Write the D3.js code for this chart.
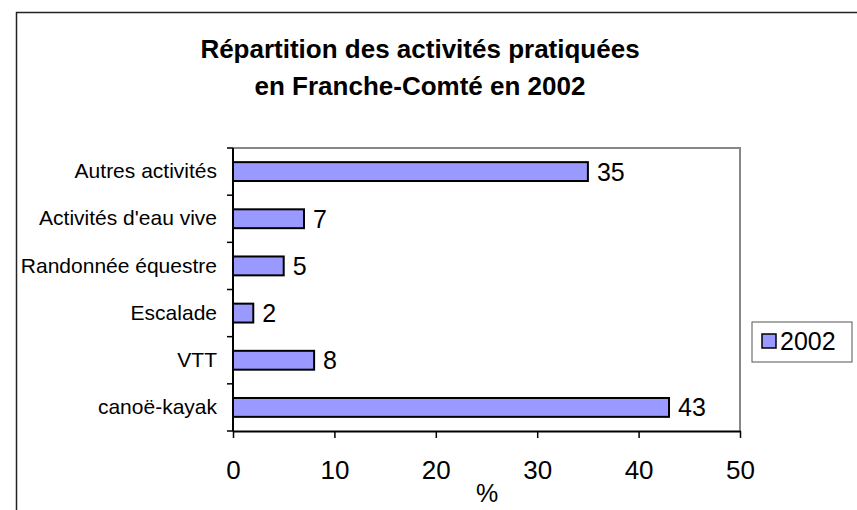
<!DOCTYPE html>
<html>
<head>
<meta charset="utf-8">
<script src="https://cdn.jsdelivr.net/npm/d3@7"></script>
<style>
  body { margin: 0; background: #fff; }
  svg { display: block; font-family: "Liberation Sans", Arial, sans-serif; }
</style>
</head>
<body>
<svg id="chart" width="857" height="510"></svg>
<script>
// data, bottom to top as in the picture
var categories = ["canoë-kayak", "VTT", "Escalade", "Randonnée équestre", "Activités d'eau vive", "Autres activités"];
var values2002 = [43, 8, 2, 5, 7, 35];
var xTicks = [0, 10, 20, 30, 40, 50];
var titleLines = ["Répartition des activités pratiquées", "en Franche-Comté en 2002"];
var seriesName = "2002";

var svg = d3.select("#chart");

// outer chart frame (cropped on right and bottom)
svg.append("path")
    .attr("d", "M16.5,510 V12.5 H857")
    .attr("fill", "none")
    .attr("stroke", "#222")
    .attr("stroke-width", 1.5);

svg.selectAll("text.title")
    .data(titleLines)
  .enter().append("text")
    .attr("class", "title")
    .attr("x", 420)
    .attr("y", function(d, i) { return 58 + i * 37; })
    .attr("text-anchor", "middle")
    .style("font-size", "26px")
    .style("font-weight", "bold")
    .text(function(d) { return d; });

var plotLeft = 233, plotRight = 740, plotTop = 148, plotBottom = 431;

var x = d3.scaleLinear()
    .domain([0, 50])
    .range([plotLeft, plotRight]);

var y = d3.scaleBand()
    .domain(categories.slice().reverse())
    .range([plotTop, plotBottom])
    .paddingInner(0.6)
    .paddingOuter(0.3);

// plot area frame (top and right in grey)
svg.append("path")
    .attr("d", "M" + plotLeft + "," + plotTop + " H" + plotRight + " V" + plotBottom)
    .attr("fill", "none")
    .attr("stroke", "#888")
    .attr("stroke-width", 2);

// bars
svg.selectAll("rect.bar")
    .data(values2002)
  .enter().append("rect")
    .attr("class", "bar")
    .attr("x", x(0))
    .attr("y", function(d, i) { return y(categories[i]); })
    .attr("width", function(d) { return x(d) - x(0); })
    .attr("height", y.bandwidth())
    .attr("fill", "#9999ff")
    .attr("stroke", "#000")
    .attr("stroke-width", 2);

// value labels
svg.selectAll("text.val")
    .data(values2002)
  .enter().append("text")
    .attr("class", "val")
    .attr("x", function(d) { return x(d) + 9; })
    .attr("y", function(d, i) { return y(categories[i]) + y.bandwidth() / 2; })
    .attr("dy", ".36em")
    .style("font-size", "25px")
    .text(function(d) { return d; });

// x axis
var xAxis = svg.append("g")
    .attr("transform", "translate(0," + plotBottom + ")")
    .call(d3.axisBottom(x).tickValues(xTicks).tickSize(7).tickPadding(23).tickSizeOuter(0));
xAxis.select(".domain").attr("stroke", "#000").attr("stroke-width", 2);
xAxis.selectAll(".tick line").attr("stroke", "#000").attr("stroke-width", 1.5);
xAxis.selectAll(".tick text")
    .style("font-size", "26px")
    .style("font-family", "'Liberation Sans', Arial, sans-serif")
    .attr("fill", "#000");

svg.append("text")
    .attr("x", 487)
    .attr("y", 502)
    .attr("text-anchor", "middle")
    .style("font-size", "25px")
    .text("%");

// y axis labels
var yAxis = svg.append("g")
    .attr("transform", "translate(" + plotLeft + ",0)")
    .call(d3.axisLeft(y).tickSize(0).tickPadding(16).tickSizeOuter(0));
yAxis.select(".domain").remove();
yAxis.selectAll(".tick text")
    .style("font-size", "21px")
    .style("font-family", "'Liberation Sans', Arial, sans-serif")
    .attr("fill", "#000");

// y axis ticks at category boundaries
var bounds = d3.range(categories.length + 1).map(function(i) {
  return plotTop + i * (plotBottom - plotTop) / categories.length;
});
svg.selectAll("line.ytick")
    .data(bounds)
  .enter().append("line")
    .attr("class", "ytick")
    .attr("x1", plotLeft - 6)
    .attr("x2", plotLeft)
    .attr("y1", function(d) { return d; })
    .attr("y2", function(d) { return d; })
    .attr("stroke", "#000")
    .attr("stroke-width", 1.5);
svg.append("line")
    .attr("x1", plotLeft).attr("x2", plotLeft)
    .attr("y1", plotTop).attr("y2", plotBottom)
    .attr("stroke", "#000")
    .attr("stroke-width", 2);

// legend
var legend = svg.append("g").attr("transform", "translate(752,322)");
legend.append("rect")
    .attr("width", 100).attr("height", 40)
    .attr("fill", "#fff")
    .attr("stroke", "#555")
    .attr("stroke-width", 1);
legend.append("rect")
    .attr("x", 10).attr("y", 12)
    .attr("width", 14).attr("height", 14)
    .attr("fill", "#9999ff")
    .attr("stroke", "#000")
    .attr("stroke-width", 1.5);
legend.append("text")
    .attr("x", 28).attr("y", 19)
    .attr("dy", ".36em")
    .style("font-size", "25px")
    .text(seriesName);
</script>
</body>
</html>
